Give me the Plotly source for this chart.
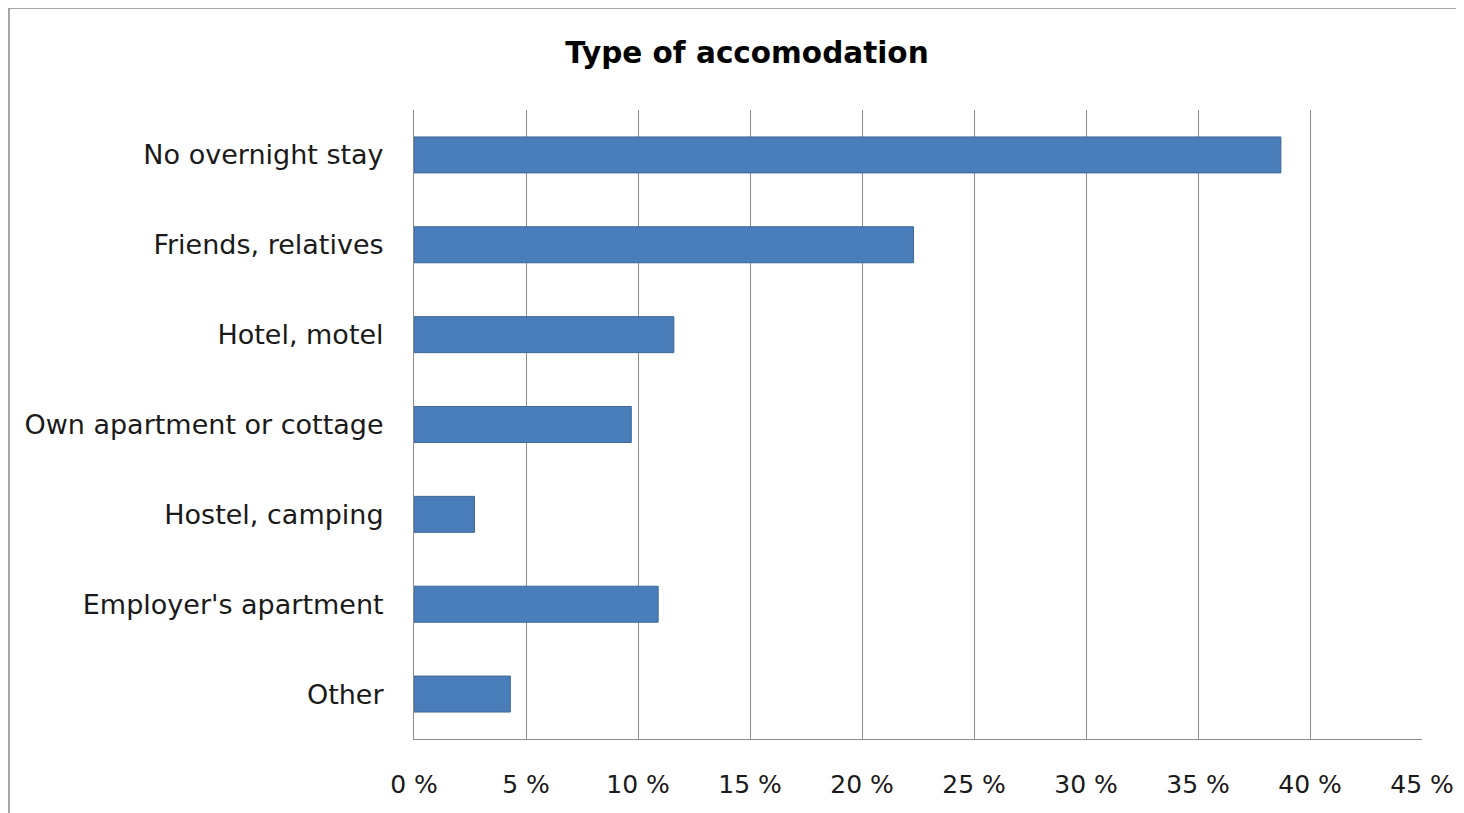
import plotly.graph_objects as go

categories = ["No overnight stay", "Friends, relatives", "Hotel, motel",
              "Own apartment or cottage", "Hostel, camping",
              "Employer's apartment", "Other"]
values = [38.7, 22.3, 11.6, 9.7, 2.7, 10.9, 4.3]
tick_vals = [0, 5, 10, 15, 20, 25, 30, 35, 40, 45]
tick_text = [f"{v} %" for v in tick_vals]

font_family = "'DejaVu Sans', sans-serif"

fig = go.Figure(go.Bar(
    x=values, y=categories, orientation="h",
    marker=dict(color="#4A7EBB", line=dict(color="#3B6696", width=1)),
))

fig.update_layout(
    width=1464, height=813,
    margin=dict(l=406, r=50, t=102, b=82),
    paper_bgcolor="white", plot_bgcolor="white",
    bargap=0.6,
    showlegend=False,
    title=dict(text="<b>Type of accomodation</b>", x=(747 - 8) / 1464, xanchor="center",
               y=1 - 45 / 813, yanchor="middle",
               font=dict(family=font_family, size=29.5, color="#000000")),
    font=dict(family=font_family, size=25, color="#1a1a1a"),
    shapes=[dict(type="rect", xref="paper", yref="paper",
                 x0=-405 / 1008, x1=1.2, y0=-0.3, y1=1 + 102 / 629,
                 line=dict(color="#8a8a8a", width=1.5), fillcolor="rgba(0,0,0,0)",
                 layer="below")],
)

fig.update_xaxes(
    range=[0, 45], tickvals=tick_vals, ticktext=tick_text,
    showgrid=True, gridcolor="#8c8c8c", gridwidth=1,
    showline=True, linecolor="#8c8c8c", linewidth=1,
    zeroline=False, ticks="", ticklabelstandoff=23,
    tickfont=dict(family=font_family, size=25, color="#1a1a1a"),
)
fig.update_yaxes(
    categoryorder="array", categoryarray=categories[::-1],
    showline=True, linecolor="#8c8c8c", linewidth=1,
    showgrid=False, ticks="", ticklabelstandoff=24,
    tickfont=dict(family=font_family, size=27, color="#1a1a1a"),
)

fig.write_html("out.html")
